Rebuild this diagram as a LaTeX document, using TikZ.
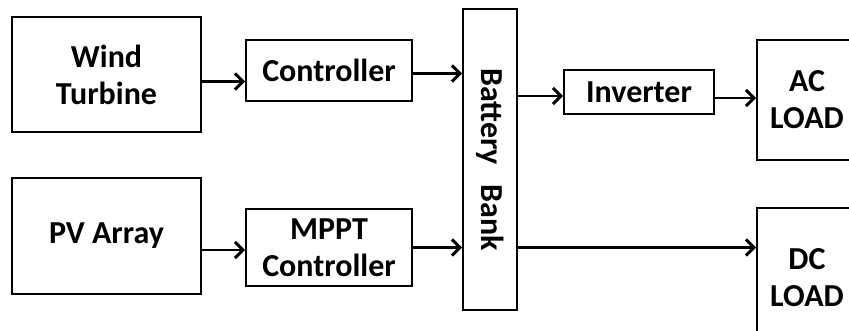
\documentclass[tikz,border=0pt]{standalone}
\usepackage{fontspec}
\setmainfont{Carlito}
\usetikzlibrary{arrows.meta}

\begin{document}
\begin{tikzpicture}[x=1pt,y=-1pt,->,>={Straight Barb[length=8pt,width=16pt,line width=3pt]},line width=2.8pt,
        blk/.style={shape=rectangle,draw=black,line width=2pt,inner sep=0pt,align=center,
            font=\fontsize{32}{37}\selectfont\bfseries}]
                \useasboundingbox (0,0) rectangle (849,331);
                \node[blk,minimum width=189pt,minimum height=115pt](wind)at(106.5, 74.5){Wind\\Turbine};
                \node[blk,minimum width=166pt,minimum height=61pt](ctrl)at(329, 70.5){Controller};
                \node[blk,minimum width=189pt,minimum height=116pt](pv)at(106.5, 236){PV Array};
                \node[blk,minimum width=166pt,minimum height=77pt](mppt)at(329, 247.5){MPPT\\Controller};
                \node[blk,minimum width=301pt,minimum height=54pt,rotate=-90](batt)at(490, 159.5){Battery\hspace{0.6em}Bank};
                \node[blk,minimum width=150pt,minimum height=44pt](inv)at(639, 92){Inverter};
                \node[blk,minimum width=100pt,minimum height=120pt](ac)at(807, 100){AC\\LOAD};
                \node[blk,minimum width=100pt,minimum height=140pt](dc)at(807, 278){DC\\LOAD};
                \path[]
                ([yshift=-7pt]wind.east) edge ([yshift=-7pt]wind.east -| ctrl.west)
                ([yshift=-3pt]ctrl.east) edge ([yshift=-3pt]ctrl.east -| batt.south)
                ([yshift=-14pt]pv.east) edge ([yshift=-14pt]pv.east -| mppt.west)
                (mppt.east) edge (mppt.east -| batt.south);
                \path[]
                ([yshift=-4pt]inv.west -| batt.north) edge ([yshift=-4pt]inv.west)
                ([yshift=-6pt]inv.east) edge ([yshift=-6pt]inv.east -| ac.west)
                (mppt.east -| batt.north) edge (mppt.east -| dc.west);
            \end{tikzpicture}
\end{document}
